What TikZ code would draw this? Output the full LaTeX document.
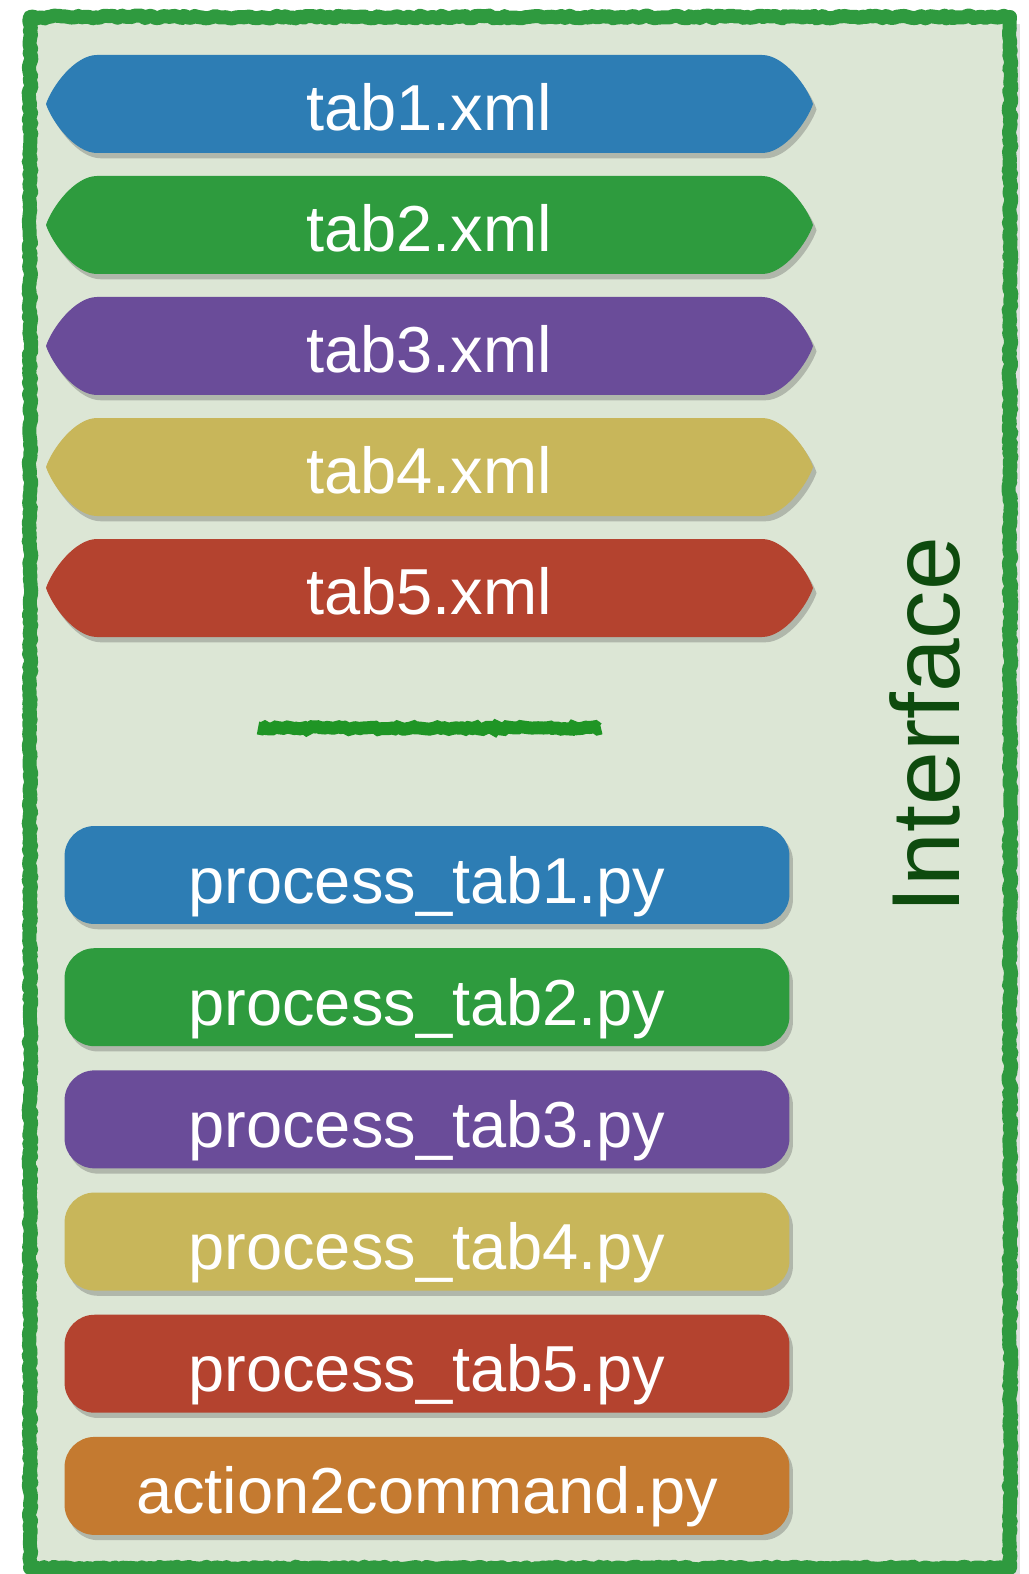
\documentclass[tikz,border=0pt]{standalone}
\usepackage{fontspec}
\usepackage{tikz}
\usetikzlibrary{positioning,shadows,decorations.pathmorphing}
\newfontfamily\labelfont{Liberation Sans}
\definecolor{tabblue}{HTML}{2D7DB4}
\definecolor{tabgreen}{HTML}{2E9B3E}
\definecolor{tabpurple}{HTML}{6A4C99}
\definecolor{tabyellow}{HTML}{C8B65A}
\definecolor{tabred}{HTML}{B4432F}
\definecolor{taborange}{HTML}{C47A30}
\definecolor{panelbg}{HTML}{DCE6D5}
\definecolor{panelgreen}{HTML}{2F9A3F}
\definecolor{sepgreen}{HTML}{1F9525}
\definecolor{ifacegreen}{HTML}{0E4B0E}
\tikzset{%
	tabshape/.style = {drop shadow={shadow xshift=2pt, shadow yshift=-3pt, opacity=.3, fill=black!70}}, % xml tab
	tabtext/.style  = {text=white, font=\labelfont\fontsize{37}{42}\selectfont, inner sep=0pt,
	                   text height=1.06cm, text depth=0pt},
	pybox/.style    = {rectangle, rounded corners=0.6cm, minimum width=14.5cm, minimum height=1.96cm, text=white,
	                   font=\labelfont\fontsize{37}{42}\selectfont, inner sep=0pt, text height=1.12cm, text depth=0pt,
	                   drop shadow={shadow xshift=2pt, shadow yshift=-3pt, opacity=.3, fill=black!70}},
	frame/.style    = {draw=panelgreen, fill=panelbg, line width=0.28cm, line join=round,
	                   decorate, decoration={random steps, segment length=2pt, amplitude=0.8pt}},
}

\begin{document}
\begin{tikzpicture}[x=0.02cm,y=-0.02cm,node distance=0.47cm]
	\useasboundingbox (0,0) rectangle (1028,1574);
	\fill[black!25, opacity=.5] (36,24) rectangle (1020,1576);
	\path[frame] (30,17) rectangle (1010,1568);
	
	% xml tabs
	\foreach \n/\c [count=\i from 0] in {1/tabblue,2/tabgreen,3/tabpurple,4/tabyellow,5/tabred} {
		\begin{scope}[shift={(429,104+121*\i)}]
			\path[tabshape, fill=\c] (-332,-49) -- (333,-49) .. controls (355,-49) and (378,-18) .. (384,0)
				.. controls (378,18) and (355,49) .. (333,49) -- (-332,49)
				.. controls (-354,49) and (-377,18) .. (-383,0) .. controls (-377,-18) and (-354,-49) .. cycle;
			\node[tabtext] (xml\n) at (0,0) {tab\n.xml};
		\end{scope}
	}
	
	\draw[sepgreen, line width=0.26cm, decorate, decoration={random steps, segment length=2pt, amplitude=0.8pt}]
		(258,728) -- (601,728);
	
	% python scripts
	\node [pybox, fill=tabblue] (py1) at (427,875) {process\_tab1.py};
	\node [pybox, fill=tabgreen] (py2) [below=of py1] {process\_tab2.py};
	\node [pybox, fill=tabpurple] (py3) [below=of py2] {process\_tab3.py};
	\node [pybox, fill=tabyellow] (py4) [below=of py3] {process\_tab4.py};
	\node [pybox, fill=tabred] (py5) [below=of py4] {process\_tab5.py};
	\node [pybox, fill=taborange] (a2c) [below=of py5] {action2command.py};
	
	\node [rotate=90, text=ifacegreen, font=\labelfont\fontsize{55}{60}\selectfont] (iface) at (925,725) {Interface};
\end{tikzpicture}
\end{document}
